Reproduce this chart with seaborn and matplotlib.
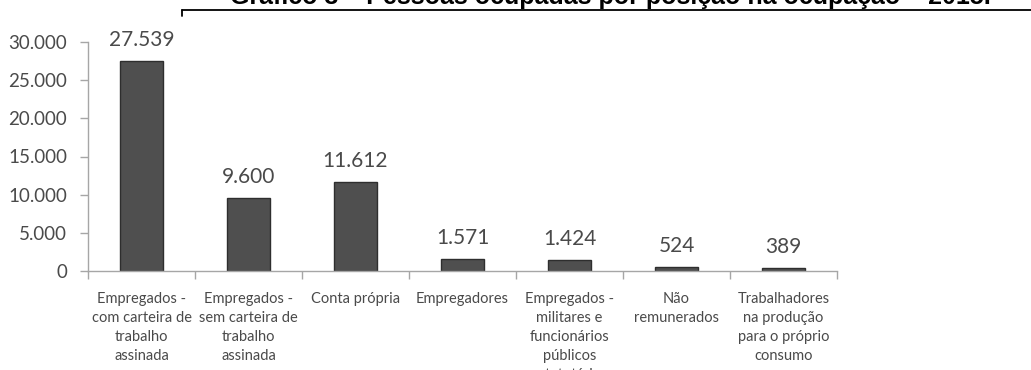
import matplotlib
matplotlib.use("Agg")
import matplotlib.pyplot as plt
from matplotlib.lines import Line2D
from matplotlib.ticker import FuncFormatter, FixedLocator
import seaborn as sns
import pandas as pd

# Pessoas ocupadas (mil pessoas) por posição na ocupação
categorias = [
    "Empregados -\ncom carteira de\ntrabalho\nassinada",
    "Empregados -\nsem carteira de\ntrabalho\nassinada",
    "Conta própria",
    "Empregadores",
    "Empregados -\nmilitares e\nfuncionários\npúblicos\nestatutários",
    "Não\nremunerados",
    "Trabalhadores\nna produção\npara o próprio\nconsumo",
]
pessoas = [27539, 9600, 11612, 1571, 1424, 524, 389]
y_ticks = [0, 5000, 10000, 15000, 20000, 25000, 30000]
titulo = "Gráfico 3 – Pessoas ocupadas por posição na ocupação – 2015."

df = pd.DataFrame({"posicao": categorias, "pessoas": pessoas})

sns.set_theme(style="white")
plt.rcParams["font.family"] = ["Lato", "DejaVu Sans"]

TXT = "#4a4a4a"
AXC = "#a6a6a6"
BAR = "#4f4f4f"

W, H, DPI = 1031, 370, 100
fig = plt.figure(figsize=(W / DPI, H / DPI), dpi=DPI)
fig.patch.set_facecolor("white")

left, right, bottom, top = 88, 837, 271, 42
ax = fig.add_axes([left / W, 1 - bottom / H, (right - left) / W, (bottom - top) / H])

sns.barplot(data=df, x="posicao", y="pessoas", color=BAR, saturation=1,
            width=0.41, edgecolor="#2e2e2e", linewidth=1.0, ax=ax)

def milhar(v):
    return f"{int(round(v)):,}".replace(",", ".")

for patch, v in zip(ax.patches, pessoas):
    cx = patch.get_x() + patch.get_width() / 2
    ax.annotate(milhar(v), xy=(cx, v), xytext=(0, 8), textcoords="offset points",
                ha="center", va="bottom", fontsize=15, color=TXT, annotation_clip=False)

ax.set_xlim(-0.5, len(categorias) - 0.5)
ax.set_ylim(0, 30000)
ax.set_yticks(y_ticks)
ax.yaxis.set_major_formatter(FuncFormatter(lambda v, p: milhar(v)))
ax.tick_params(axis="y", labelsize=13.5, labelcolor=TXT, color=AXC,
               length=6, width=1, pad=9, left=True)

ax.set_xticks(range(len(categorias)))
ax.set_xticklabels(categorias, fontsize=10.5, color=TXT, linespacing=1.45, va="top")
ax.tick_params(axis="x", which="major", length=0, pad=15)
ax.xaxis.set_minor_locator(FixedLocator([i - 0.5 for i in range(len(categorias) + 1)]))
ax.tick_params(axis="x", which="minor", bottom=True, length=6, width=1, color=AXC)

ax.set_xlabel("")
ax.set_ylabel("")
for s in ["top", "right"]:
    ax.spines[s].set_visible(False)
for s in ["left", "bottom"]:
    ax.spines[s].set_color(AXC)
    ax.spines[s].set_linewidth(1)
ax.grid(False)

# título e moldura superior
fig.text(610 / W, 1 - 4 / H, titulo, ha="center", va="baseline",
         fontsize=18, fontweight="bold", color="black",
         family=["Liberation Sans", "DejaVu Sans"])
fig.add_artist(Line2D([182 / W, 1.0], [1 - 10 / H, 1 - 10 / H], color="black",
                      linewidth=1.3, transform=fig.transFigure))
fig.add_artist(Line2D([182 / W, 182 / W], [1 - 10 / H, 1 - 16 / H], color="black",
                      linewidth=1.3, transform=fig.transFigure))

fig.savefig("out.png", dpi=DPI, facecolor="white")
